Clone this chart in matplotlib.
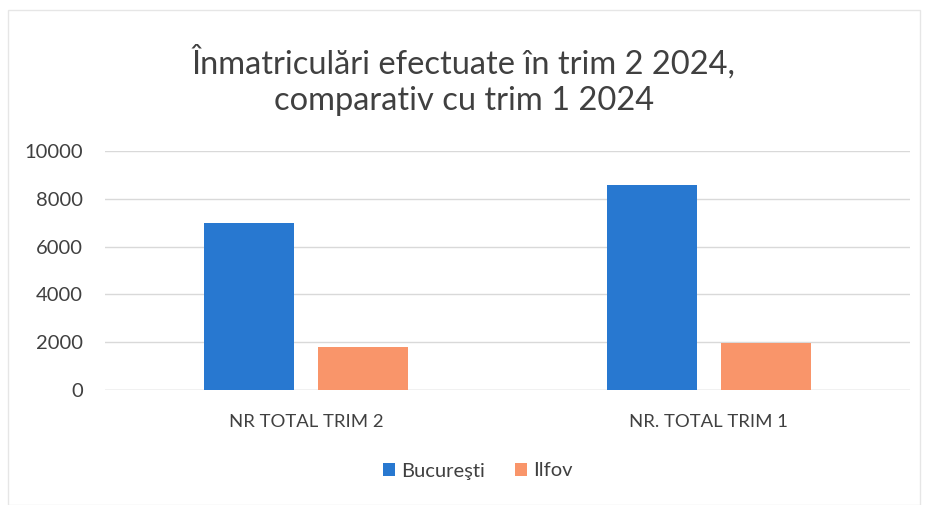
import matplotlib.pyplot as plt
import numpy as np
from matplotlib.patches import Rectangle

plt.rcParams['font.family'] = ['Lato', 'DejaVu Sans']

categories = ["NR TOTAL TRIM 2", "NR. TOTAL TRIM 1"]
series = ["Bucureşti", "Ilfov"]
bucuresti = [7000, 8580]
ilfov = [1800, 1960]
colors = ["#2878d0", "#f9956a"]

fig = plt.figure(figsize=(9.28, 5.05), dpi=100)
ax = fig.add_axes([105 / 928, 1 - 390 / 505, 805 / 928, 239 / 505])

x = np.arange(len(categories))
w = 0.223
off = 0.1415
ax.bar(x - off, bucuresti, w, color=colors[0], label=series[0], zorder=3)
ax.bar(x + off, ilfov, w, color=colors[1], label=series[1], zorder=3)

ax.set_xlim(-0.5, 1.5)
ax.set_ylim(0, 10000)
ax.set_yticks(range(0, 10001, 2000))
ax.yaxis.grid(True, color="#d9d9d9", lw=1, zorder=0)
for s in ax.spines.values():
    s.set_visible(False)
ax.axhline(0, color="#d9d9d9", lw=1, zorder=1)
ax.tick_params(axis="both", length=0, colors="#404040")
ax.tick_params(axis="y", pad=16, labelsize=14.5)
ax.tick_params(axis="x", pad=17, labelsize=13.3)
ax.set_xticks(x)
ax.set_xticklabels(categories)

fig.text(0.5, 1 - 62 / 505, "Înmatriculări efectuate în trim 2 2024,", ha="center",
         va="center", fontsize=23.5, color="#404040")
fig.text(0.5, 1 - 101 / 505, "comparativ cu trim 1 2024", ha="center",
         va="center", fontsize=23.5, color="#404040")

fig.legend(loc="center", bbox_to_anchor=(478 / 928, 1 - 471 / 505), ncol=2,
           frameon=False, fontsize=14.5, handlelength=0.6, handleheight=0.6,
           handletextpad=0.3, columnspacing=1.5, labelcolor="#404040")

fig.add_artist(Rectangle((8 / 928, 0.0), 912 / 928, 1 - 10 / 505, transform=fig.transFigure,
                         fill=False, edgecolor="#e6e6e6", lw=1))

fig.savefig("out.png", dpi=100)
